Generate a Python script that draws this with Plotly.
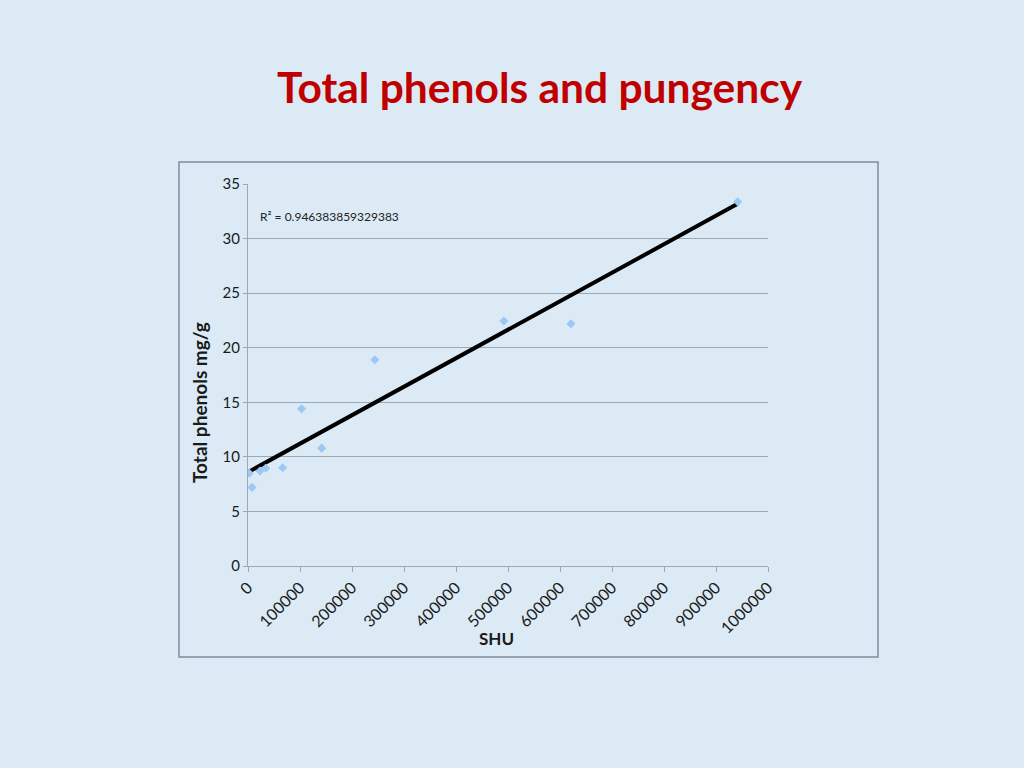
import numpy as np
import plotly.graph_objects as go

# pungency (Scoville heat units) vs total phenols
shu = [2500, 7700, 23000, 34000, 66700, 103000, 141700, 244000, 492000, 621000, 941700]
phenols = [8.5, 7.2, 8.7, 8.95, 9.0, 14.4, 10.8, 18.9, 22.45, 22.2, 33.38]
x_ticks = [0, 100000, 200000, 300000, 400000, 500000, 600000, 700000, 800000, 900000, 1000000]
y_ticks = [0, 5, 10, 15, 20, 25, 30, 35]
r2_text = "R² = 0.946383859329383"

# linear trendline
slope, intercept = np.polyfit(shu, phenols, 1)
trend_x = [min(shu), max(shu)]
trend_y = [slope * v + intercept for v in trend_x]

bg = "#dbeaf5"
fig = go.Figure()
fig.add_trace(go.Scatter(x=trend_x, y=trend_y, mode="lines",
                         line=dict(color="black", width=4), hoverinfo="skip"))
fig.add_trace(go.Scatter(x=shu, y=phenols, mode="markers",
                         marker=dict(symbol="diamond", size=7, color="#9cc8f5")))

fig.add_annotation(x=20000, y=32, text=r2_text, showarrow=False, xanchor="left",
                   font=dict(size=12, color="#222"))
# axis titles placed like the original (off-centre)
fig.add_annotation(xref="paper", yref="paper", x=-0.0942, y=0.4267, text="<b>Total phenols mg/g</b>",
                   textangle=-90, showarrow=False, xanchor="center", yanchor="middle",
                   font=dict(size=19, color="#1a1a1a"))
fig.add_annotation(xref="paper", yref="paper", x=0.4788, y=-0.1885, text="<b>SHU</b>",
                   showarrow=False, xanchor="center", yanchor="middle",
                   font=dict(size=17, color="#1a1a1a"))
fig.add_shape(type="rect", xref="paper", yref="paper",
              x0=-0.1327, x1=1.2115, y0=-0.2382, y1=1.0576,
              line=dict(color="#7f8c9c", width=1.5))

fig.update_layout(
    width=1024, height=768,
    paper_bgcolor=bg, plot_bgcolor=bg,
    showlegend=False,
    margin=dict(l=248, r=256, t=184, b=202),
    font=dict(family="Lato, Carlito, sans-serif", color="#1a1a1a"),
    title=dict(text="<b>Total phenols and pungency</b>", x=0.527, xanchor="center",
               y=0.885, yanchor="middle",
               font=dict(size=42.5, color="#c00000", family="Lato, sans-serif")),
)
fig.update_xaxes(range=[0, 1000000], tickvals=x_ticks, tickformat="d", tickangle=-45,
                 showgrid=False, zeroline=False, showline=True, linecolor="#9aa9b8",
                 ticks="outside", ticklen=5, tickcolor="#9aa9b8", tickfont=dict(size=16))
fig.update_yaxes(range=[0, 35], tickvals=y_ticks, showgrid=True, gridcolor="#9aa9b8",
                 zeroline=False, showline=True, linecolor="#9aa9b8",
                 ticks="outside", ticklen=4, tickcolor="#9aa9b8", tickfont=dict(size=15))

fig.write_html("out.html", config={"displayModeBar": False},
               post_script="document.body.style.margin='0';")
